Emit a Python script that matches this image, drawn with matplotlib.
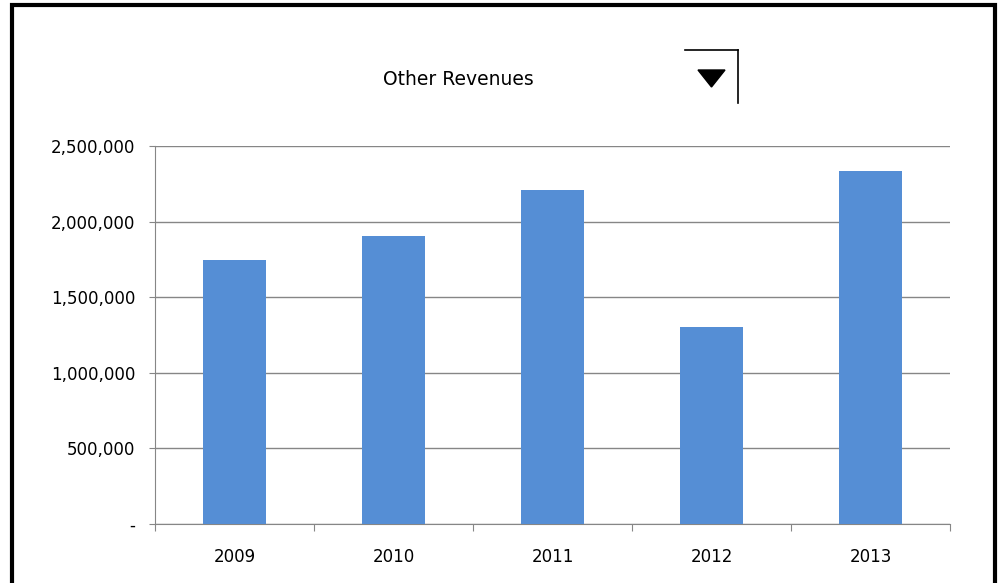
import matplotlib
matplotlib.use('Agg')
import matplotlib.pyplot as plt
import numpy as np
from matplotlib.patches import Rectangle, Polygon
from matplotlib.lines import Line2D
from matplotlib.ticker import FuncFormatter

years = ['2009', '2010', '2011', '2012', '2013']
revenues = [1745000, 1905000, 2208000, 1302000, 2334000]
yticks = [0, 500000, 1000000, 1500000, 2000000, 2500000]

W, H = 1003, 583
fig = plt.figure(figsize=(W / 100, H / 100), dpi=100)
fig.patch.set_facecolor('white')

# Posicion del area de graficos en pixeles
ax = fig.add_axes([155 / W, (H - 524) / H, (950 - 155) / W, (524 - 146) / H])

x = np.arange(len(years))
ax.bar(x, revenues, 0.40, color='#558ED5', zorder=3)

ax.set_xlim(-0.5, len(years) - 0.5)
ax.set_ylim(0, 2500000)
ax.set_yticks(yticks)
ax.yaxis.set_major_formatter(FuncFormatter(lambda v, p: '-' if v == 0 else '{:,.0f}'.format(v)))
ax.grid(axis='y', color='#868686', linewidth=1, zorder=0)

# marcas del eje x en los limites de cada categoria
ax.set_xticks(np.arange(len(years) + 1) - 0.5)
ax.set_xticklabels([])
ax.set_xticks(x, minor=True)
ax.set_xticklabels(years, minor=True)
ax.tick_params(axis='x', which='major', length=5, color='#868686', direction='out')
ax.tick_params(axis='x', which='minor', length=0, pad=17, labelsize=12)
ax.tick_params(axis='y', length=4, color='#868686', pad=10, labelsize=12)

for s in ['top', 'right']:
    ax.spines[s].set_visible(False)
ax.spines['left'].set_color('#868686')
ax.spines['bottom'].set_color('#868686')

fig.text(458 / W, 1 - 80 / H, 'Other Revenues', ha='center', va='center', fontsize=13.5)

# boton desplegable
fig.add_artist(Line2D([685 / W, 738 / W], [1 - 50 / H, 1 - 50 / H], color='black', lw=1.2))
fig.add_artist(Line2D([738 / W, 738 / W], [1 - 50 / H, 1 - 103 / H], color='black', lw=1.2))
fig.add_artist(Polygon([[698 / W, 1 - 70 / H], [725 / W, 1 - 70 / H], [711.5 / W, 1 - 87 / H]],
                       closed=True, facecolor='black', edgecolor='black', transform=fig.transFigure))

# marco negro
fig.add_artist(Rectangle((12 / W, -0.05), (995 - 12) / W, 1.05 - 5 / H, fill=False,
                         edgecolor='black', linewidth=3, transform=fig.transFigure))

plt.savefig('out.png', dpi=100)
